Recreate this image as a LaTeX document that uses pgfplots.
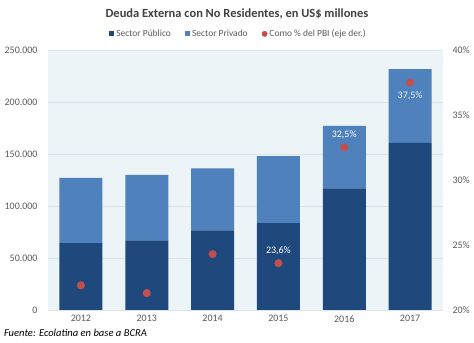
\documentclass[border=0pt]{standalone}
\usepackage{pgfplots}
\pgfplotsset{compat=1.18}
\usepackage{pgfplotstable}
\usepackage{fontspec}
\setmainfont{Carlito}
\definecolor{pub}{RGB}{31,73,125}
\definecolor{priv}{RGB}{79,129,189}
\definecolor{dotc}{RGB}{192,80,77}
\definecolor{bgc}{RGB}{236,244,248}
\definecolor{gridc}{RGB}{218,228,235}
\definecolor{txt}{RGB}{89,89,89}
\definecolor{ttl}{RGB}{64,64,64}

\pgfplotstableread{
x publico privado pbi
0 64400 62600 21.9
1 67000 63000 21.3
2 76600 59600 24.3
3 83600 64400 23.6
4 117000 60000 32.5
5 160600 71100 37.5
}\datos

\begin{document}
\begin{tikzpicture}
\useasboundingbox (0,0) rectangle (474bp,343bp);
\pgfplotsset{
  common/.style={
    at={(48bp,33bp)}, anchor=south west,
    scale only axis, width=395bp, height=260bp,
    xmin=-0.5, xmax=5.5,
    axis line style={draw=none},
    major tick length=0pt,
    tick label style={font=\fontsize{10}{12}\selectfont, text=txt},
    /pgf/number format/assume math mode=true,
  }
}
\begin{axis}[common,
  axis background/.style={fill=bgc},
  ybar stacked, bar width=43bp,
  ymin=0, ymax=250000,
  ytick={0,50000,100000,150000,200000,250000},
  scaled y ticks=false,
  yticklabel style={/pgf/number format/.cd, fixed, 1000 sep={.}},
  yticklabel shift=7bp,
  ymajorgrids, grid style={gridc, line width=0.8pt},
  xtick=data, xticklabels={2012,2013,2014,2015,2016,2017},
  xticklabel shift=2bp,
  legend columns=3,
  legend style={at={(0.482,1.062)}, anchor=center, draw=none, fill=none,
    font=\fontsize{9.5}{11}\selectfont, text=txt,
    /tikz/every even column/.append style={column sep=12bp}},
  legend image code/.code={\fill[#1] (0bp,-2.6bp) rectangle (5.2bp,2.6bp);},
]
\addplot[fill=pub, draw=none] table[x=x, y=publico] {\datos};
\addlegendentry{Sector Público}
\addplot[fill=priv, draw=none] table[x=x, y=privado] {\datos};
\addlegendentry{Sector Privado}
\addlegendimage{legend image code/.code={\fill[dotc] (2.6bp,0bp) circle (2.7bp);}}
\addlegendentry{Como \% del PBI (eje der.)}
\end{axis}
\begin{axis}[common,
  ymin=20, ymax=40,
  axis y line*=right,
  ytick={20,25,30,35,40},
  yticklabel={\pgfmathprintnumber{\tick}\%},
  yticklabel shift=6bp,
  xtick=\empty,
]
\addplot[only marks, mark=*, mark size=3.8bp, dotc] table[x=x, y=pbi] {\datos};
\node[text=white, font=\fontsize{10}{12}\selectfont] at (axis cs:3,24.55) {23,6\%};
\node[text=white, font=\fontsize{10}{12}\selectfont] at (axis cs:4,33.45) {32,5\%};
\node[text=white!88!priv, font=\fontsize{10}{12}\selectfont] at (axis cs:5,36.5) {37,5\%};
\end{axis}
\node[font=\bfseries\fontsize{12.5}{14}\selectfont, text=ttl] at (237bp,329bp) {Deuda Externa con No Residentes, en US\$ millones};
\node[anchor=west, font=\itshape\fontsize{10.6}{12}\selectfont, text=black] at (0.5bp,10bp) {Fuente: Ecolatina en base a BCRA};
\end{tikzpicture}
\end{document}
